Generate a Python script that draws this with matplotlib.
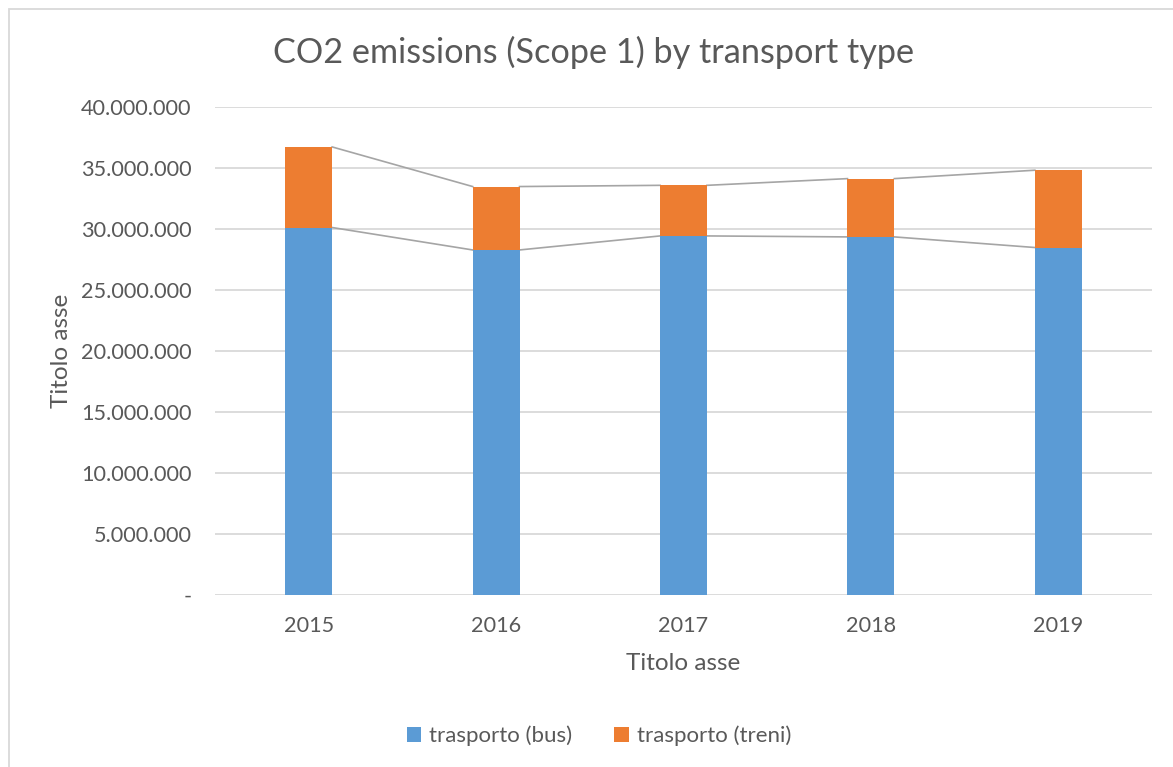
import matplotlib
matplotlib.use('Agg')
import matplotlib.pyplot as plt
from matplotlib.patches import Rectangle
from matplotlib.ticker import FuncFormatter
import numpy as np

years = ['2015', '2016', '2017', '2018', '2019']
bus = [30_140_000, 28_300_000, 29_450_000, 29_370_000, 28_500_000]
treni = [6_610_000, 5_200_000, 4_150_000, 4_780_000, 6_340_000]

BLUE = '#5B9BD5'
ORANGE = '#ED7D31'
TXT = '#595959'
GRID = '#D9D9D9'

plt.rcParams['font.family'] = ['Lato', 'DejaVu Sans']

fig = plt.figure(figsize=(11.73, 7.67), dpi=100)
W, H = 1173, 767
ax = fig.add_axes([215 / W, 1 - 595 / H, (1152 - 215) / W, (595 - 107.3) / H])

x = np.arange(len(years))
width = 0.25
bus = np.array(bus)
treni = np.array(treni)
total = bus + treni

ax.bar(x, bus, width, color=BLUE, label='trasporto (bus)', zorder=3)
ax.bar(x, treni, width, bottom=bus, color=ORANGE, label='trasporto (treni)', zorder=3)

# series lines between the stacked bars
for i in range(len(x) - 1):
    for top in (bus, total):
        ax.plot([x[i] + width / 2, x[i + 1] - width / 2], [top[i], top[i + 1]],
                color='#A5A5A5', lw=1.2, zorder=2)

ax.set_xlim(-0.5, len(years) - 0.5)
ax.set_ylim(0, 40_000_000)
ax.set_yticks(np.arange(0, 40_000_001, 5_000_000))
ax.yaxis.set_major_formatter(FuncFormatter(
    lambda v, p: '-' if v == 0 else f'{int(v):,}'.replace(',', '.')))
ax.set_xticks(x)
ax.set_xticklabels(years)

ax.grid(axis='y', color=GRID, lw=1.3, zorder=0)
ax.set_axisbelow(True)
for s in ax.spines.values():
    s.set_visible(False)
ax.tick_params(axis='both', length=0, colors=TXT, labelsize=15.6)
ax.tick_params(axis='y', pad=17)
ax.tick_params(axis='x', pad=15)

ax.set_xlabel('Titolo asse', fontsize=17.5, color=TXT, labelpad=12)
ax.set_ylabel('Titolo asse', fontsize=17.5, color=TXT, labelpad=6)

fig.text(594 / W, 1 - 52 / H, 'CO2 emissions (Scope 1) by transport type',
         ha='center', va='center', fontsize=24.7, color=TXT)

ax.legend(loc='center', bbox_to_anchor=(599 / W, 1 - 736 / H),
          bbox_transform=fig.transFigure, ncol=2, frameon=False,
          fontsize=16, labelcolor=TXT, handlelength=0.65, handleheight=0.65,
          handletextpad=0.35, columnspacing=1.9)

# chart area border
fig.patches.append(Rectangle((8.5 / W, -0.1), 1.2, 1 - 9 / H + 0.1,
                             transform=fig.transFigure, fill=False,
                             edgecolor=GRID, lw=1.3))

fig.savefig('out.png', dpi=100, facecolor='white')
